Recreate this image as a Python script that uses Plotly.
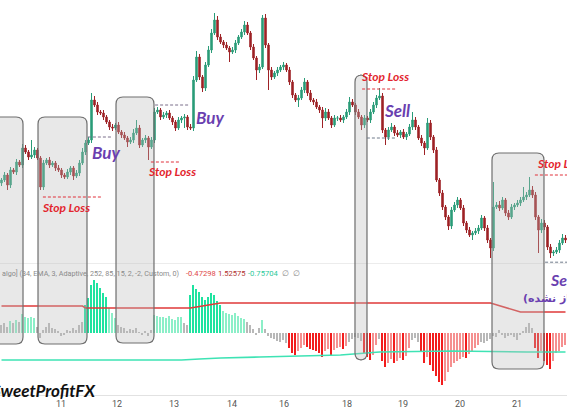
import plotly.graph_objects as go

# ---------------- DATA ----------------
first_open = 80
close = [
    83, 88, 78, 93, 91, 101, 98, 115, 111, 106,
    108, 113, 105, 76, 100, 103, 98, 100, 95, 93,
    88, 86, 91, 95, 87, 90, 100, 111, 120, 123,
    163, 158, 151, 150, 146, 141, 136, 135, 138, 131,
    128, 125, 121, 123, 130, 135, 118, 123, 125, 116,
    123, 151, 153, 146, 148, 150, 145, 141, 135, 143,
    145, 146, 136, 135, 183, 206, 186, 175, 198, 213,
    230, 243, 226, 221, 218, 215, 211, 213, 220, 226,
    231, 238, 230, 216, 205, 193, 196, 245, 218, 193,
    186, 190, 193, 196, 198, 193, 181, 168, 163, 165,
    173, 181, 170, 163, 161, 156, 153, 145, 151, 145,
    138, 145, 145, 143, 146, 151, 161, 158, 151, 146,
    138, 145, 143, 151, 158, 165, 167, 133, 126, 133,
    136, 130, 128, 131, 126, 129, 136, 143, 136, 125,
    120, 115, 140, 126, 113, 83, 70, 56, 46, 37,
    53, 58, 63, 55, 40, 33, 28, 30, 32, 35,
    45, 35, 23, 15, 56, 58, 55, 63, 50, 46,
    56, 58, 60, 63, 66, 68, 73, 68, 46, 33,
    40, 36, 16, 10, 11, 13, 20, 25, 23,
]
upper_wick = [
    2, 3, 2, 3, 2, 3, 2, 4, 3, 2,
    15, 3, 2, 2, 3, 2, 3, 2, 2, 3,
    2, 2, 3, 2, 2, 3, 3, 4, 3, 3,
    7, 4, 3, 2, 3, 2, 2, 3, 2, 3,
    2, 3, 2, 3, 4, 8, 3, 2, 3, 2,
    3, 4, 3, 2, 3, 2, 3, 2, 2, 3,
    2, 3, 2, 3, 4, 6, 3, 2, 3, 4,
    4, 7, 4, 3, 2, 3, 2, 3, 3, 2,
    3, 4, 3, 2, 3, 2, 3, 3, 4, 2,
    3, 2, 3, 2, 3, 2, 3, 2, 2, 3,
    3, 4, 2, 3, 2, 3, 2, 3, 4, 3,
    2, 3, 2, 3, 2, 3, 5, 3, 2, 3,
    2, 3, 2, 3, 3, 3, 8, 3, 2, 3,
    4, 2, 3, 2, 3, 2, 3, 8, 3, 2,
    3, 2, 5, 3, 2, 3, 2, 3, 2, 2,
    3, 3, 3, 2, 3, 2, 3, 2, 3, 3,
    3, 2, 3, 2, 25, 3, 4, 3, 2, 3,
    3, 2, 3, 3, 10, 3, 13, 4, 3, 2,
    4, 3, 2, 3, 2, 3, 3, 4, 3,
]
lower_wick = [
    3, 2, 5, 3, 2, 3, 2, 3, 2, 3,
    2, 3, 2, 3, 3, 2, 3, 2, 3, 2,
    3, 2, 2, 3, 4, 2, 3, 2, 3, 2,
    3, 2, 3, 2, 3, 2, 3, 3, 2, 2,
    3, 2, 5, 2, 3, 2, 3, 2, 3, 13,
    2, 3, 2, 3, 2, 3, 2, 3, 3, 2,
    3, 10, 3, 2, 3, 2, 3, 4, 3, 2,
    3, 2, 3, 2, 3, 2, 10, 2, 3, 2,
    2, 3, 2, 3, 2, 10, 3, 2, 3, 20,
    3, 2, 3, 2, 3, 2, 3, 3, 2, 7,
    2, 3, 3, 2, 3, 2, 3, 10, 3, 2,
    3, 2, 3, 2, 3, 2, 3, 2, 3, 2,
    5, 3, 2, 3, 2, 3, 2, 3, 8, 3,
    2, 3, 2, 3, 2, 3, 2, 3, 3, 2,
    3, 7, 2, 3, 3, 2, 3, 3, 3, 4,
    3, 2, 3, 2, 3, 3, 2, 5, 2, 3,
    2, 3, 3, 10, 3, 2, 3, 2, 3, 3,
    2, 3, 2, 3, 2, 3, 2, 3, 3, 23,
    3, 3, 3, 5, 3, 2, 3, 2, 3,
]
histogram = [
    0.8, 1.0, 0.6, 1.2, 1.0, 1.3, 1.1, 1.9, 1.6, 1.5,
    1.6, 1.5, 0.6, -0.5, 0.3, 0.6, 1.0, 0.5, 0.4, 0.2,
    -0.3, -0.2, 0.3, 0.2, 0.5, 0.3, 0.8, 1.1, 2.8, 3.5,
    4.8, 5.3, 5.0, 4.5, 4.0, 3.6, 2.5, 2.0, 1.5, 0.8,
    0.6, 0.5, 0.2, 0.4, 0.3, 0.5, 0.1, -0.2, 0.2, -0.3,
    0.3, 1.8, 1.7, 1.6, 1.6, 1.5, 1.7, 1.4, 1.3, 1.6,
    1.6, 1.0, 0.8, 3.8, 4.8, 4.4, 4.1, 3.6, 3.3, 3.6,
    4.0, 3.8, 3.2, 2.8, 2.2, 2.0, 1.9, 1.8, 2.0, 1.7,
    1.5, 1.4, 1.1, 0.8, 0.4, -0.2, 0.5, 1.3, 0.4, -0.3,
    -0.5, -0.6, -0.8, -0.9, -0.7, -1.0, -1.5, -2.0, -2.2, -1.8,
    -1.5, -1.2, -1.4, -1.6, -1.7, -1.8, -2.0, -2.4, -1.8, -1.6,
    -2.2, -1.7, -1.5, -1.4, -1.6, -1.3, -0.9, -0.6, -0.4, -0.5,
    -0.8, -2.0, -2.4, -2.7, -2.2, -1.2, -0.6, -2.8, -3.4, -3.0,
    -2.6, -3.0, -2.8, -2.5, -2.7, -2.3, -1.5, -0.7, -0.5, -0.9,
    -1.8, -3.0, -2.4, -3.2, -3.8, -4.3, -4.9, -5.2, -4.8, -3.9,
    -3.4, -3.0, -2.8, -2.6, -2.4, -2.5, -2.1, -1.9, -1.5, -1.2,
    -0.9, -1.0, -0.8, -0.6, -0.3, -0.4, 0.3, -0.2, -0.5, -0.3,
    -0.2, -0.4, -0.7, -0.2, 0.2, 0.6, 1.0, 0.5, -1.5, -2.5,
    -1.8, -2.8, -3.2, -3.6, -2.8, -2.0, -1.8, -1.4, -1.2,
]
# indicator lines (bar index, value) – straight segments drawn by plotly
upper_band_x = [0, 27, 28, 63, 73, 163, 173, 188]
upper_band_v = [2.7, 2.7, 2.5, 2.5, 3.0, 3.0, 2.1, 2.1]
lower_band_x = [0, 60, 66, 73, 86, 100, 113, 126, 150, 175, 188]
lower_band_v = [-2.7, -2.7, -2.6, -2.5, -2.4, -2.3, -2.2, -1.9, -1.8, -1.9, -1.9]

tick_pos = [19.83, 38.5, 57.5, 76.83, 94.17, 115.17, 133.83, 152.83, 171.83]
tick_text = ["11", "12", "13", "14", "16", "18", "19", "20", "21"]

# ---------------- BUILD ----------------
n = len(close)
idx = list(range(n))
opens = [first_open] + close[:-1]
highs = [max(o, c) + w for o, c, w in zip(opens, close, upper_wick)]
lows = [min(o, c) - w for o, c, w in zip(opens, close, lower_wick)]

W, H, B = 567, 410, 15
PH = H - B  # plot height in px


def py(pix):
    return (PH - pix) / PH


def hist_color(i):
    v = histogram[i]
    prev = histogram[i - 1] if i > 0 else v
    if abs(v) < 1.2:
        return "#b8b8b8"
    if v > 0:
        return "#1fe3a0" if v > 2.5 else "#8cefc8"
    return "#f21d1d" if v <= prev else "#f59090"


fig = go.Figure()
fig.add_trace(go.Candlestick(
    x=idx, open=opens, high=highs, low=lows, close=close,
    increasing=dict(line=dict(color="#2a9c78", width=1), fillcolor="#2a9c78"),
    decreasing=dict(line=dict(color="#9e2226", width=1), fillcolor="#9e2226"),
    whiskerwidth=0, xaxis="x", yaxis="y", showlegend=False,
))
fig.add_trace(go.Bar(
    x=idx, y=histogram, marker=dict(color=[hist_color(i) for i in idx], line=dict(width=0)),
    width=0.6, xaxis="x", yaxis="y2", showlegend=False,
))
fig.add_trace(go.Scatter(
    x=upper_band_x, y=upper_band_v, mode="lines", line=dict(color="#e03a3a", width=1.6),
    xaxis="x", yaxis="y2", showlegend=False,
))
fig.add_trace(go.Scatter(
    x=lower_band_x, y=lower_band_v, mode="lines", line=dict(color="#3ee3b4", width=1.6),
    xaxis="x", yaxis="y2", showlegend=False,
))

shapes = []
# panel separator
shapes.append(dict(type="line", xref="paper", yref="paper", x0=0, x1=1, y0=py(263.5), y1=py(263.5),
                   line=dict(color="#ececec", width=1)))

# rounded highlight boxes: (start idx, end idx, top px, bottom px)
boxes = [(-3.0, 7.17, 117, 344), (12.17, 28.5, 117, 344), (38.17, 50.83, 97, 343),
         (117.83, 121.83, 75, 360), (163.5, 180.83, 153, 369)]
rx, ry = 2.3, 7 / PH
for x0, x1, t, b in boxes:
    y1, y0 = py(t), py(b)
    path = (f"M {x0+rx},{y1} L {x1-rx},{y1} Q {x1},{y1} {x1},{y1-ry} L {x1},{y0+ry} "
            f"Q {x1},{y0} {x1-rx},{y0} L {x0+rx},{y0} Q {x0},{y0} {x0},{y0+ry} "
            f"L {x0},{y1-ry} Q {x0},{y1} {x0+rx},{y1} Z")
    shapes.append(dict(type="path", xref="x", yref="paper", path=path, layer="above",
                       fillcolor="rgba(185,185,185,0.33)", line=dict(color="#6e6e6e", width=1.2)))

# dashed level lines (x0 idx, x1 idx, price, color)
levels = [(28.8, 36.8, 126, "#7a6f8a"), (13.8, 33.8, 66, "#e0303a"), (49.8, 59.5, 101, "#e0303a"),
          (51.2, 62.8, 158, "#7a6f8a"), (120.2, 131.2, 174, "#e0303a"), (121.8, 131.2, 125, "#6f7a8a"),
          (177.8, 188.5, 88, "#e0303a"), (181.2, 188.5, 0.8, "#6f7a8a")]
for x0, x1, yv, col in levels:
    shapes.append(dict(type="line", xref="x", yref="y", x0=x0, x1=x1, y0=yv, y1=yv,
                       line=dict(color=col, width=1, dash="3px,2px")))

ann = []
purple = "#6a3fb0"
red = "#e3262e"


def label(text, xp, yp, size, color, anchor="center", fam="Lato"):
    ann.append(dict(text=text, xref="paper", yref="paper", x=xp / W, y=py(yp), xanchor=anchor,
                    yanchor="middle", showarrow=False, font=dict(size=size, color=color, family=fam)))


label("<b><i>Buy</i></b>", 106, 152, 17, purple)
label("<b><i>Buy</i></b>", 210, 117, 17, purple)
label("<b><i>Sell</i></b>", 397, 110, 17, purple)
label("<b><i>Sell</i></b>", 548, 279, 16, purple, "left")
label("<b>(باز نشده)</b>", 521, 298, 11, purple, "left", "DejaVu Sans")
label("<b><i>Stop Loss</i></b>", 66, 207, 12, red)
label("<b><i>Stop Loss</i></b>", 172, 171, 12, red)
label("<b><i>Stop Loss</i></b>", 385, 76, 12, red)
label("<b><i>Stop Loss</i></b>", 535, 163, 12, red, "left")

# indicator header
label("algo] (34, EMA, 3, Adaptive, 252, 85, 15, 2, -2, Custom, 0)", 0, 274, 7.2, "#8a8a8a", "left", "Roboto")
label("-0.47298", 184, 274, 7.6, "#e04848", "left", "Roboto")
label("1.52575", 216, 274, 7.6, "#b03030", "left", "Roboto")
label("-0.75704", 246, 274, 7.6, "#2bc99a", "left", "Roboto")
label("∅  ∅", 280, 274, 7.6, "#8a8a8a", "left", "Roboto")

# signature
label("<b><i>@SweetProfitFX</i></b>", 98, 390, 17, "#111111", "right", "Lato")
# cut-off tick at right edge
ann.append(dict(text="22", xref="paper", yref="paper", x=574 / W, y=py(403), showarrow=False,
                xanchor="center", yanchor="middle", font=dict(size=9, color="#555555", family="Roboto")))

fig.update_layout(
    width=W, height=H, margin=dict(l=0, r=0, t=0, b=B),
    paper_bgcolor="white", plot_bgcolor="white",
    shapes=shapes, annotations=ann, bargap=0,
    xaxis=dict(range=[-0.5, n - 0.5], anchor="y2", tickvals=tick_pos, ticktext=tick_text,
               showgrid=False, zeroline=False, showline=True, linecolor="#e2e2e2",
               ticks="", tickfont=dict(size=9, color="#555555", family="Roboto"),
               rangeslider=dict(visible=False), fixedrange=True),
    yaxis=dict(domain=[py(263), 1], range=[0, 263], visible=False, showgrid=False, fixedrange=True),
    yaxis2=dict(domain=[0, py(265)], range=[-6.2, 6.8], visible=False, showgrid=False, fixedrange=True),
)

fig.write_html("out.html", config={"displayModeBar": False},
               post_script="document.body.style.margin='0';document.body.style.overflow='hidden';")
